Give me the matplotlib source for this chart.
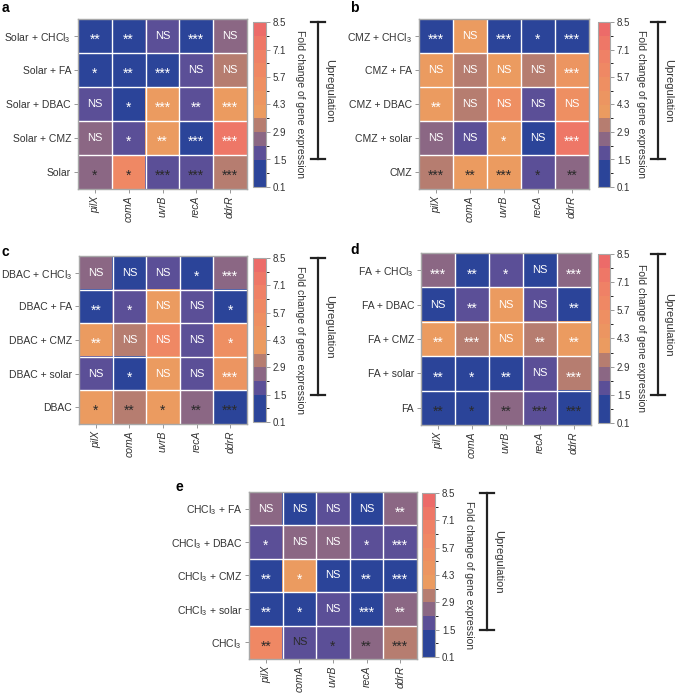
import numpy as np
import matplotlib.pyplot as plt
from matplotlib.colors import ListedColormap, BoundaryNorm
from matplotlib.cm import ScalarMappable
from matplotlib.transforms import blended_transform_factory

plt.rcParams['font.family'] = ['Liberation Sans', 'DejaVu Sans']
plt.rcParams['mathtext.fontset'] = 'custom'
plt.rcParams['mathtext.rm'] = 'Liberation Sans'
plt.rcParams['mathtext.it'] = 'Liberation Sans:italic'

genes = ['pilX', 'comA', 'uvrB', 'recA', 'ddrR']

rows_a = ['Solar + CHCl$_3$', 'Solar + FA', 'Solar + DBAC', 'Solar + CMZ', 'Solar']
fold_a = [[0.8, 0.9, 1.9, 0.7, 2.5],
          [1.0, 0.9, 1.1, 1.8, 3.2],
          [1.8, 1.0, 4.1, 1.9, 4.2],
          [2.4, 1.9, 4.0, 0.8, 7.6],
          [2.5, 6.1, 1.8, 1.9, 3.3]]
sig_a = [['**', '**', 'NS', '***', 'NS'],
         ['*', '**', '***', 'NS', 'NS'],
         ['NS', '*', '***', '**', '***'],
         ['NS', '*', '**', '***', '***'],
         ['*', '*', '***', '***', '***']]

rows_b = ['CMZ + CHCl$_3$', 'CMZ + FA', 'CMZ + DBAC', 'CMZ + solar', 'CMZ']
fold_b = [[0.8, 4.0, 0.9, 1.0, 0.8],
          [4.1, 3.3, 4.0, 3.2, 4.5],
          [4.1, 3.2, 5.6, 1.9, 5.4],
          [2.5, 1.8, 4.0, 0.8, 7.5],
          [3.3, 4.0, 4.1, 1.9, 2.6]]
sig_b = [['***', 'NS', '***', '*', '***'],
         ['NS', 'NS', 'NS', 'NS', '***'],
         ['**', 'NS', 'NS', 'NS', 'NS'],
         ['NS', 'NS', '*', 'NS', '***'],
         ['***', '**', '***', '*', '**']]

rows_c = ['DBAC + CHCl$_3$', 'DBAC + FA', 'DBAC + CMZ', 'DBAC + solar', 'DBAC']
fold_c = [[2.5, 0.9, 1.9, 0.8, 2.5],
          [0.9, 1.9, 4.1, 1.9, 0.9],
          [4.2, 3.2, 5.9, 1.9, 5.5],
          [1.9, 0.8, 4.0, 1.9, 4.4],
          [4.1, 3.2, 4.0, 2.5, 0.8]]
sig_c = [['NS', 'NS', 'NS', '*', '***'],
         ['**', '*', 'NS', 'NS', '*'],
         ['**', 'NS', 'NS', 'NS', '*'],
         ['NS', '*', 'NS', 'NS', '***'],
         ['*', '**', '*', '**', '***']]

rows_d = ['FA + CHCl$_3$', 'FA + DBAC', 'FA + CMZ', 'FA + solar', 'FA']
fold_d = [[2.5, 0.9, 1.9, 0.8, 2.5],
          [0.9, 1.9, 4.1, 1.9, 0.9],
          [4.1, 3.2, 4.2, 3.2, 4.1],
          [0.9, 1.0, 0.9, 1.9, 3.3],
          [0.8, 1.0, 2.5, 1.9, 0.8]]
sig_d = [['***', '**', '*', 'NS', '***'],
         ['NS', '**', 'NS', 'NS', '**'],
         ['**', '***', 'NS', '**', '**'],
         ['**', '*', '**', 'NS', '***'],
         ['**', '*', '**', '***', '***']]

rows_e = ['CHCl$_3$ + FA', 'CHCl$_3$ + DBAC', 'CHCl$_3$ + CMZ', 'CHCl$_3$ + solar', 'CHCl$_3$']
fold_e = [[2.5, 0.8, 1.9, 0.9, 2.5],
          [1.9, 2.4, 2.5, 1.9, 1.8],
          [0.9, 4.1, 0.8, 0.9, 0.8],
          [0.9, 1.0, 1.9, 0.8, 2.5],
          [5.9, 1.9, 1.8, 2.5, 3.2]]
sig_e = [['NS', 'NS', 'NS', 'NS', '**'],
         ['*', 'NS', 'NS', '*', '***'],
         ['**', '*', 'NS', '**', '***'],
         ['**', '*', 'NS', '***', '**'],
         ['**', 'NS', '*', '**', '***']]

bounds = np.round(np.arange(0.1, 8.51, 0.7), 2)
bin_colors = ['#2b4499', '#2b4499', '#5b4f97', '#8b6784', '#b67d70', '#eb9b60',
              '#ec9561', '#ee8f62', '#ef8864', '#ef8166', '#ee7767', '#ec6b69']
cbar_ticks = [0.1, 1.5, 2.9, 4.3, 5.7, 7.1, 8.5]

cmap = ListedColormap(bin_colors)
norm = BoundaryNorm(bounds, cmap.N)

W, H = 685, 695
fig = plt.figure(figsize=(W / 100, H / 100), dpi=100)
TXT = '#333333'


def px(x0, y0, x1, y1):
    return [x0 / W, 1 - y1 / H, (x1 - x0) / W, (y1 - y0) / H]


def panel(rows, fold, sig, hm, cb):
    ax = fig.add_axes(px(*hm))
    ax.imshow(np.array(fold), cmap=cmap, norm=norm, aspect='auto')
    for k in range(1, 5):
        ax.axhline(k - 0.5, color='white', lw=1)
        ax.axvline(k - 0.5, color='white', lw=1)
    ax.set_xticks(range(5))
    ax.set_xticklabels(genes, rotation=90, style='italic', fontsize=7.5, color=TXT)
    ax.set_yticks(range(5))
    ax.set_yticklabels(rows, fontsize=7.5, color=TXT)
    ax.tick_params(length=3, width=0.6, color='#888888', pad=2)
    for s in ax.spines.values():
        s.set_color('#a8a8a8')
        s.set_linewidth(1)
    for i in range(5):
        for j in range(5):
            t = sig[i][j]
            c = 'white' if i < 4 else '#2a2a2a'
            if t == 'NS':
                ax.text(j, i, t, ha='center', va='center', color=c, fontsize=8)
            else:
                ax.text(j, i + 0.12, t, ha='center', va='center', color=c, fontsize=10)
    cax = fig.add_axes(px(*cb))
    sm = ScalarMappable(norm=norm, cmap=cmap)
    cbar = fig.colorbar(sm, cax=cax, boundaries=bounds, ticks=cbar_ticks, format='%.1f')
    cbar.outline.set_edgecolor('#a8a8a8')
    cbar.outline.set_linewidth(0.8)
    cax.tick_params(labelsize=7, length=3, width=0.6, color='#888888', pad=2, labelcolor=TXT)
    cax.text(3.6, 0.5, 'Fold change of gene expression', transform=cax.transAxes,
             rotation=270, ha='center', va='center', fontsize=7.5, color=TXT)
    tr = blended_transform_factory(cax.transAxes, cax.transData)
    cax.plot([5.0, 5.0], [1.5, 8.5], transform=tr, color='#222222', lw=1.6, clip_on=False)
    for yy in (1.5, 8.5):
        cax.plot([4.45, 5.55], [yy, yy], transform=tr, color='#222222', lw=1.6, clip_on=False)
    cax.text(5.85, 5.0, 'Upregulation', transform=tr, rotation=270,
             ha='center', va='center', fontsize=8, color=TXT)


panel(rows_a, fold_a, sig_a, [78, 19, 247, 189], [253, 22, 266, 187])
panel(rows_b, fold_b, sig_b, [419, 19, 589, 189], [598, 22, 610, 187])
panel(rows_c, fold_c, sig_c, [79, 256, 247, 424], [253, 258, 266, 422])
panel(rows_d, fold_d, sig_d, [421, 253, 591, 425], [598, 254, 610, 423])
panel(rows_e, fold_e, sig_e, [249, 492, 417, 659], [422, 493, 435, 657])

for letter, x, y in [('a', 2, 8), ('b', 350, 8), ('c', 2, 252), ('d', 350, 250), ('e', 175, 487)]:
    fig.text(x / W, 1 - y / H, letter, fontsize=10, fontweight='bold', va='center', ha='left')

fig.savefig('out.png', dpi=100)
